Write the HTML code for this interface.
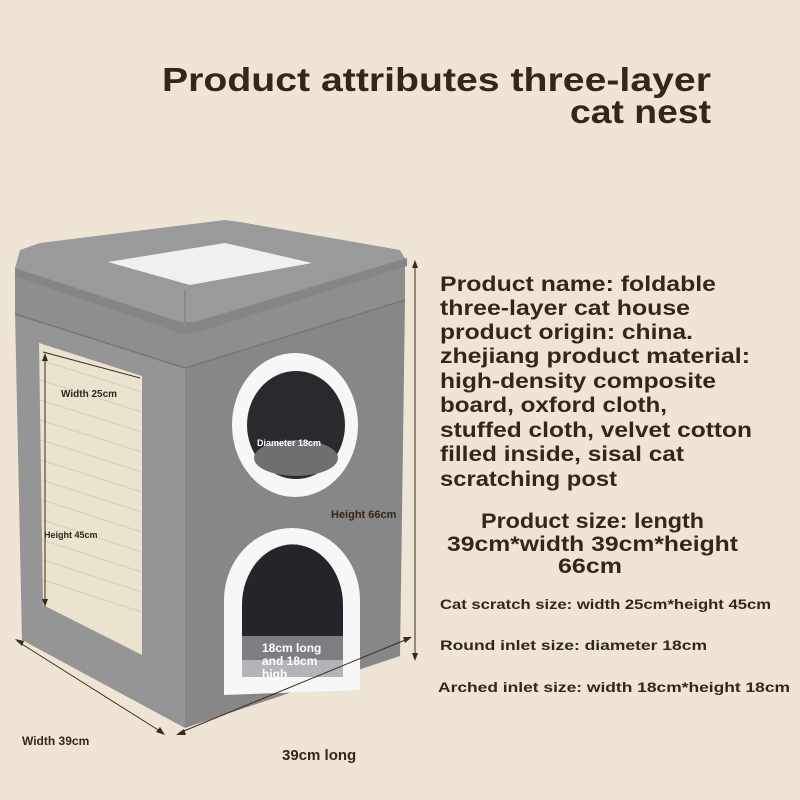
<!DOCTYPE html>
<html><head><meta charset="utf-8"><style>
html,body{margin:0;padding:0;background:#efe5d6;}
svg{display:block}
text{font-family:"Liberation Sans",sans-serif;font-weight:bold;fill:#33261a}
</style></head><body>
<svg width="800" height="800" viewBox="0 0 800 800" xmlns="http://www.w3.org/2000/svg">
<rect width="800" height="800" fill="#efe5d6"/>
<text x="162" y="91" font-size="33" textLength="549" lengthAdjust="spacingAndGlyphs">Product attributes three-layer</text>
<text x="570" y="123" font-size="33" textLength="141" lengthAdjust="spacingAndGlyphs">cat nest</text>

<polygon points="15,312 185,366 185,728 22,640" fill="#959595"/>
<polygon points="185,366 405,300 400,656 185,728" fill="#878787"/>
<polygon points="15,272 185,325 405,262 405,300 185,368 15,314" fill="#8e8e8e"/>
<line x1="15" y1="314" x2="185" y2="368" stroke="#777" stroke-width="1.5"/>
<line x1="185" y1="368" x2="405" y2="300" stroke="#777" stroke-width="1.5"/>
<polygon points="15,268 20,250 40,243 225,220 240,222 400,250 407,262 195,330 180,332" fill="#9a9a9a"/>
<polygon points="15,268 180,322 195,322 407,258 407,266 195,333 180,333 15,276" fill="#858585"/>
<polygon points="108,262 225,243 312,263 190,285" fill="#f0f0f0"/>
<line x1="185" y1="290" x2="185" y2="330" stroke="#8a8a8a" stroke-width="2"/>

<polygon points="39,343 142,376 142,655 43,605" fill="#e9e3cf"/>
<g stroke="#d6cfb8" stroke-width="1">
<line x1="40" y1="360" x2="142" y2="392"/><line x1="40" y1="380" x2="142" y2="412"/><line x1="40" y1="400" x2="142" y2="432"/><line x1="40" y1="420" x2="142" y2="452"/><line x1="41" y1="440" x2="142" y2="472"/><line x1="41" y1="460" x2="142" y2="492"/><line x1="41" y1="480" x2="142" y2="512"/><line x1="42" y1="500" x2="142" y2="532"/><line x1="42" y1="520" x2="142" y2="552"/><line x1="42" y1="540" x2="142" y2="572"/><line x1="43" y1="560" x2="142" y2="592"/><line x1="43" y1="580" x2="142" y2="612"/>
</g>

<ellipse cx="295" cy="425" rx="63" ry="72" fill="#f7f7f7"/>
<ellipse cx="296" cy="425" rx="49" ry="54" fill="#2a2a2e"/>
<ellipse cx="296" cy="458" rx="42" ry="18" fill="#6f6f72"/>

<path d="M224,695 L224,600 A68,72 0 0 1 360,600 L360,690 Z" fill="#f7f7f7"/>
<path d="M242,677 L242,605 A50,60 0 0 1 343,605 L343,677 Z" fill="#24242a"/>
<rect x="242" y="636" width="101" height="41" fill="#7e7e82"/>
<rect x="242" y="660" width="101" height="17" fill="#b4b4b8"/>

<g stroke="#3a2a1a" stroke-width="1" fill="none">
<line x1="415" y1="264" x2="415" y2="657"/>
<line x1="45" y1="357" x2="45" y2="603"/>
<line x1="43" y1="352" x2="140" y2="378"/>
<line x1="17" y1="641" x2="163" y2="733"/>
<line x1="179" y1="733" x2="410" y2="638"/>
</g>
<g fill="#3a2a1a">
<polygon points="415,260 412,268 418,268"/><polygon points="415,661 412,653 418,653"/>
<polygon points="45,353 42,361 48,361"/><polygon points="45,607 42,599 48,599"/>
<polygon points="15,639 22,646 24,641"/><polygon points="165,735 156,732 160,727"/>
<polygon points="176,735 184,729 186,735"/><polygon points="412,637 403,637 405,643"/>
</g>

<text x="61" y="397" font-size="10">Width 25cm</text>
<text x="44" y="538" font-size="9">Height 45cm</text>
<text x="257" y="446" font-size="9" style="fill:#fff">Diameter 18cm</text>
<text x="331" y="518" font-size="11">Height 66cm</text>
<text x="262" y="652" font-size="12" style="fill:#fff">18cm long</text>
<text x="262" y="665" font-size="12" style="fill:#fff">and 18cm</text>
<text x="262" y="678" font-size="12" style="fill:#fff">high</text>
<text x="22" y="745" font-size="12">Width 39cm</text>
<text x="282" y="760" font-size="15">39cm long</text>

<g font-size="21">
<text x="440" y="291" textLength="276" lengthAdjust="spacingAndGlyphs">Product name: foldable</text>
<text x="440" y="315" textLength="250" lengthAdjust="spacingAndGlyphs">three-layer cat house</text>
<text x="440" y="339" textLength="253" lengthAdjust="spacingAndGlyphs">product origin: china.</text>
<text x="440" y="363" textLength="310" lengthAdjust="spacingAndGlyphs">zhejiang product material:</text>
<text x="440" y="388" textLength="276" lengthAdjust="spacingAndGlyphs">high-density composite</text>
<text x="440" y="412" textLength="227" lengthAdjust="spacingAndGlyphs">board, oxford cloth,</text>
<text x="440" y="437" textLength="312" lengthAdjust="spacingAndGlyphs">stuffed cloth, velvet cotton</text>
<text x="440" y="461" textLength="244" lengthAdjust="spacingAndGlyphs">filled inside, sisal cat</text>
<text x="440" y="486" textLength="177" lengthAdjust="spacingAndGlyphs">scratching post</text>
<text x="481" y="528" textLength="223" lengthAdjust="spacingAndGlyphs">Product size: length</text>
<text x="447" y="551" textLength="291" lengthAdjust="spacingAndGlyphs">39cm*width 39cm*height</text>
<text x="558" y="573" textLength="64" lengthAdjust="spacingAndGlyphs">66cm</text>
</g>
<g font-size="14">
<text x="440" y="609" textLength="331" lengthAdjust="spacingAndGlyphs">Cat scratch size: width 25cm*height 45cm</text>
<text x="440" y="650" textLength="267" lengthAdjust="spacingAndGlyphs">Round inlet size: diameter 18cm</text>
<text x="438" y="692" textLength="352" lengthAdjust="spacingAndGlyphs">Arched inlet size: width 18cm*height 18cm</text>
</g>
</svg>
</body></html>
